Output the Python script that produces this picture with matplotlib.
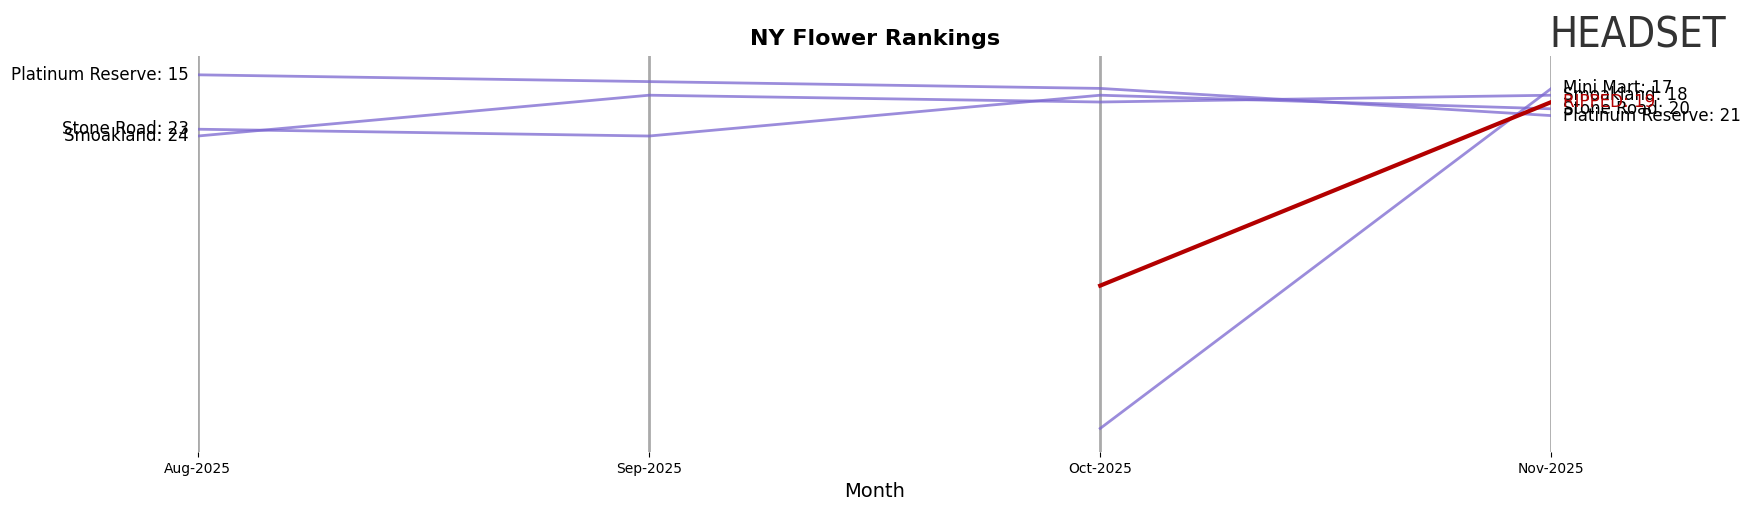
import matplotlib
matplotlib.use("Agg")
import matplotlib.pyplot as plt

months = ["Aug-2025", "Sep-2025", "Oct-2025", "Nov-2025"]
brands = ["Platinum Reserve", "Stone Road", "Smoakland", "Mini Mart", "RIPPED"]
ranks = {
    "Platinum Reserve": [15, 16, 17, 21],
    "Stone Road": [23, 24, 18, 20],
    "Smoakland": [24, 18, 19, 18],
    "Mini Mart": [None, None, 67, 17],
    "RIPPED": [None, None, 46, 19],
}
highlight = "RIPPED"

fig = plt.figure(figsize=(17.51, 5.07), dpi=100)
ax = fig.add_axes([0.113, 0.108, 0.773, 0.782])
x = list(range(len(months)))
for xi in x:
    ax.axvline(xi, color="#aaaaaa", lw=2, zorder=0)
for b in brands:
    pts = [(xi, r) for xi, r in zip(x, ranks[b]) if r is not None]
    xs, ys = zip(*pts)
    if b == highlight:
        ax.plot(xs, ys, color="#b30000", lw=3, zorder=3)
    else:
        ax.plot(xs, ys, color="#7a66d0", lw=2, alpha=0.75, zorder=2)
    first = pts[0]
    if first[0] == 0:
        ax.text(-0.02, first[1], f"{b}: {first[1]}", ha="right", va="center", fontsize=12)
    last = pts[-1]
    ax.text(x[-1] + 0.025, last[1], f"{b}: {last[1]}", ha="left", va="center", fontsize=12,
            color="#b30000" if b == highlight else "black")
ax.set_ylim(70.5, 12.2)
ax.set_xlim(0, 3)
ax.set_xticks(x)
ax.set_xticklabels(months)
ax.set_yticks([])
for s in ax.spines.values():
    s.set_visible(False)
ax.set_xlabel("Month", fontsize=14)
ax.set_title("NY Flower Rankings", fontsize=16, fontweight="bold", pad=8)
fig.text(0.885, 0.93, "HEADSET", fontsize=30, color="#333333", va="center", ha="left",
         fontstretch="condensed")
fig.savefig("out.png", dpi=100)
